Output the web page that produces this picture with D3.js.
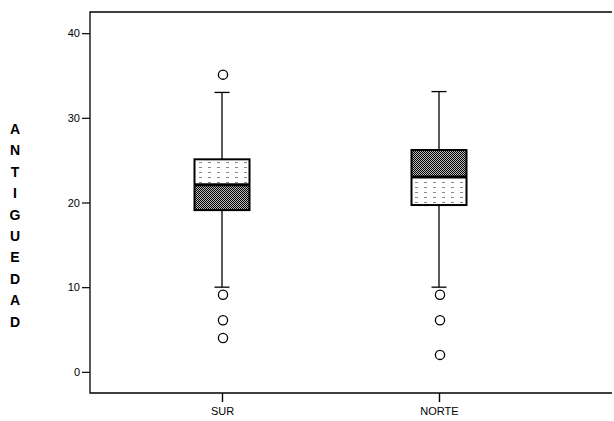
<!DOCTYPE html>
<html>
<head>
<meta charset="utf-8">
<script src="https://cdn.jsdelivr.net/npm/d3@7"></script>
<style>
  body { margin: 0; background: #fff; }
  svg { display: block; font-family: Arial, "Liberation Sans", sans-serif; }
</style>
</head>
<body>
<svg id="chart" width="614" height="421"></svg>
<script>
// Box plot data
const groups = ['SUR', 'NORTE'];
const whiskerLow = [10, 10];
const q1 = [19.1, 19.7];
const median = [22.1, 23];
const q3 = [25.1, 26.2];
const whiskerHigh = [33, 33.1];
const outliers = [[35.1, 9.1, 6.1, 4], [9.1, 6.1, 2]];
const yTicks = [0, 10, 20, 30, 40];
const yTitle = 'ANTIGUEDAD';
// which half of each box looks dark in the scan
const darkHalf = ['lower', 'upper'];

const svg = d3.select('#chart');
const margin = { top: 12, right: 2, bottom: 28, left: 90 };
const W = 614, H = 421;

const y = d3.scaleLinear()
  .domain([-2.5, 42.5])
  .range([H - margin.bottom, margin.top]);

const x = d3.scalePoint()
  .domain(groups)
  .range([222, 439]);

// halftone patterns
const defs = svg.append('defs');
const dark = defs.append('pattern')
  .attr('id', 'dark').attr('width', 2).attr('height', 2)
  .attr('patternUnits', 'userSpaceOnUse');
dark.append('rect').attr('width', 2).attr('height', 2).attr('fill', '#bbb');
dark.append('rect').attr('width', 1).attr('height', 1).attr('fill', '#000');
dark.append('rect').attr('x', 1).attr('y', 1).attr('width', 1).attr('height', 1).attr('fill', '#000');

const light = defs.append('pattern')
  .attr('id', 'light').attr('width', 9).attr('height', 5)
  .attr('patternUnits', 'userSpaceOnUse');
light.append('rect').attr('width', 9).attr('height', 5).attr('fill', '#fff');
light.append('rect').attr('x', 1).attr('y', 2).attr('width', 3).attr('height', 1).attr('fill', '#888');

// frame
svg.append('path')
  .attr('d', `M${W - margin.right},${margin.top}H${margin.left}V${H - margin.bottom}H${W - margin.right}`)
  .attr('fill', 'none').attr('stroke', '#000').attr('stroke-width', 1.3);

// y axis
const yAxis = svg.append('g')
  .attr('transform', `translate(${margin.left},0)`)
  .call(d3.axisLeft(y).tickValues(yTicks).tickSize(8).tickSizeOuter(0));
yAxis.select('.domain').remove();
yAxis.selectAll('line').attr('stroke', '#000').attr('stroke-width', 1.2);
yAxis.selectAll('text').attr('font-size', 11).attr('fill', '#000').attr('x', -10);

// x axis
const xAxis = svg.append('g')
  .attr('transform', `translate(0,${H - margin.bottom})`)
  .call(d3.axisBottom(x).tickSize(9).tickSizeOuter(0));
xAxis.select('.domain').remove();
xAxis.selectAll('line').attr('stroke', '#000').attr('stroke-width', 1.4);
xAxis.selectAll('text').attr('font-size', 11).attr('fill', '#000').attr('y', 14);

// y title, stacked letters
svg.append('g').selectAll('text')
  .data(yTitle.split(''))
  .join('text')
  .attr('x', 15)
  .attr('y', (d, i) => 134 + i * 21.4)
  .attr('text-anchor', 'middle')
  .attr('font-size', 14)
  .attr('font-weight', 'bold')
  .text(d => d);

const boxW = 55, capW = 15;
groups.forEach((g, i) => {
  const cx = x(g);
  const gg = svg.append('g');
  // whiskers
  gg.append('line').attr('x1', cx).attr('x2', cx)
    .attr('y1', y(whiskerHigh[i])).attr('y2', y(q3[i]))
    .attr('stroke', '#000').attr('stroke-width', 1.3);
  gg.append('line').attr('x1', cx).attr('x2', cx)
    .attr('y1', y(q1[i])).attr('y2', y(whiskerLow[i]))
    .attr('stroke', '#000').attr('stroke-width', 1.3);
  [whiskerHigh[i], whiskerLow[i]].forEach(v => {
    gg.append('line').attr('x1', cx - capW / 2).attr('x2', cx + capW / 2)
      .attr('y1', y(v)).attr('y2', y(v))
      .attr('stroke', '#000').attr('stroke-width', 1.3);
  });
  // box halves
  gg.append('rect')
    .attr('x', cx - boxW / 2).attr('width', boxW)
    .attr('y', y(q3[i])).attr('height', y(median[i]) - y(q3[i]))
    .attr('fill', darkHalf[i] === 'upper' ? 'url(#dark)' : 'url(#light)');
  gg.append('rect')
    .attr('x', cx - boxW / 2).attr('width', boxW)
    .attr('y', y(median[i])).attr('height', y(q1[i]) - y(median[i]))
    .attr('fill', darkHalf[i] === 'lower' ? 'url(#dark)' : 'url(#light)');
  gg.append('rect')
    .attr('x', cx - boxW / 2).attr('width', boxW)
    .attr('y', y(q3[i])).attr('height', y(q1[i]) - y(q3[i]))
    .attr('fill', 'none').attr('stroke', '#000').attr('stroke-width', 2);
  // median
  gg.append('line').attr('x1', cx - boxW / 2).attr('x2', cx + boxW / 2)
    .attr('y1', y(median[i])).attr('y2', y(median[i]))
    .attr('stroke', '#000').attr('stroke-width', 3);
  // outliers
  gg.selectAll('circle').data(outliers[i]).join('circle')
    .attr('cx', cx + 1).attr('cy', d => y(d)).attr('r', 4.6)
    .attr('fill', '#fff').attr('stroke', '#000').attr('stroke-width', 1.3);
});
</script>
</body>
</html>
